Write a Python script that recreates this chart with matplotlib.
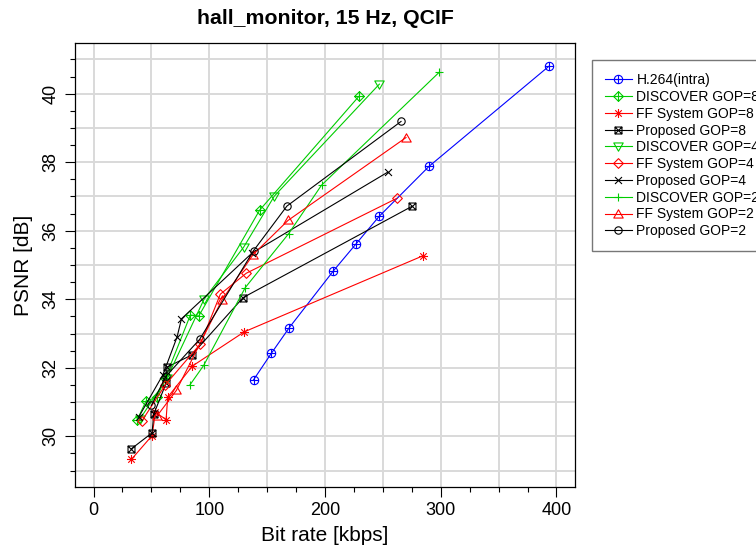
import matplotlib
matplotlib.use("Agg")
import matplotlib.pyplot as plt
from matplotlib.path import Path

plt.rcParams['font.family'] = ['Liberation Sans', 'DejaVu Sans']

# ---- data ----
h264_x = [138.3, 153.6, 169.1, 207.3, 226.9, 246.8, 289.9, 393.4]
h264_y = [31.65, 32.42, 33.17, 34.83, 35.62, 36.42, 37.88, 40.80]

disc8_x = [37.7, 45.4, 54.9, 62.0, 83.7, 90.9, 143.5, 229.2]
disc8_y = [30.48, 31.03, 31.14, 31.70, 33.54, 33.51, 36.60, 39.92]

ff8_x = [32.8, 50.6, 53.5, 62.7, 64.1, 85.4, 130.3, 284.7]
ff8_y = [29.33, 30.02, 30.70, 30.49, 31.14, 32.05, 33.05, 35.27]

prop8_x = [32.5, 50.6, 52.0, 62.7, 63.5, 84.7, 129.3, 275.0]
prop8_y = [29.63, 30.10, 30.64, 31.55, 32.02, 32.37, 34.05, 36.71]

disc4_x = [40.0, 63.5, 95.5, 129.7, 156.2, 247.0]
disc4_y = [30.50, 31.70, 34.00, 35.52, 37.01, 40.28]

ff4_x = [42.0, 62.0, 92.4, 109.6, 132.0, 262.3]
ff4_y = [30.46, 31.50, 32.70, 34.15, 34.76, 36.95]

prop4_x = [39.0, 60.0, 72.2, 76.0, 137.0, 254.2]
prop4_y = [30.56, 31.80, 32.90, 33.43, 35.35, 37.71]

disc2_x = [83.1, 95.2, 131.1, 168.5, 197.0, 298.5]
disc2_y = [31.49, 32.07, 34.34, 35.91, 37.33, 40.62]

ff2_x = [55.0, 71.6, 111.0, 137.8, 168.0, 270.0]
ff2_y = [30.60, 31.34, 33.98, 35.30, 36.30, 38.72]

prop2_x = [50.0, 62.5, 91.7, 138.3, 167.1, 265.7]
prop2_y = [30.90, 31.75, 32.83, 35.42, 36.72, 39.19]

labels = ["H.264(intra)", "DISCOVER GOP=8", "FF System GOP=8", "Proposed GOP=8",
          "DISCOVER GOP=4", "FF System GOP=4", "Proposed GOP=4",
          "DISCOVER GOP=2", "FF System GOP=2", "Proposed GOP=2"]

BLUE, GREEN, RED, BLACK = "#0000FF", "#00CD00", "#FF0000", "#000000"

# ---- R-like marker shapes ----
M, L, C = Path.MOVETO, Path.LINETO, Path.CLOSEPOLY
plus_p = Path([(-1, 0), (1, 0), (0, -1), (0, 1)], [M, L, M, L])
cross_p = Path([(-1, -1), (1, 1), (-1, 1), (1, -1)], [M, L, M, L])
circle_p = Path.unit_circle()
diamond_p = Path([(0, -1), (1, 0), (0, 1), (-1, 0), (0, -1)], [M, L, L, L, C])
square_p = Path([(-1, -1), (1, -1), (1, 1), (-1, 1), (-1, -1)], [M, L, L, L, C])
tri_up = Path([(-1, -0.75), (1, -0.75), (0, 1), (-1, -0.75)], [M, L, L, C])
tri_dn = Path([(-1, 0.75), (1, 0.75), (0, -1), (-1, 0.75)], [M, L, L, C])
star8 = Path.make_compound_path(plus_p, Path([(-0.72, -0.72), (0.72, 0.72), (-0.72, 0.72), (0.72, -0.72)], [M, L, M, L]))
circle_plus = Path.make_compound_path(circle_p, plus_p)
diamond_plus = Path.make_compound_path(diamond_p, Path([(-1, 0), (1, 0), (0, -1), (0, 1)], [M, L, M, L]))
square_x = Path.make_compound_path(square_p, cross_p)

series = [
    (h264_x, h264_y, BLUE, circle_plus, 6.0),
    (disc8_x, disc8_y, GREEN, diamond_plus, 7.0),
    (ff8_x, ff8_y, RED, star8, 6.5),
    (prop8_x, prop8_y, BLACK, square_x, 5.0),
    (disc4_x, disc4_y, GREEN, tri_dn, 6.8),
    (ff4_x, ff4_y, RED, diamond_p, 7.0),
    (prop4_x, prop4_y, BLACK, cross_p, 5.0),
    (disc2_x, disc2_y, GREEN, plus_p, 6.0),
    (ff2_x, ff2_y, RED, tri_up, 6.8),
    (prop2_x, prop2_y, BLACK, circle_p, 5.3),
]

fig = plt.figure(figsize=(7.56, 5.5), dpi=100)
ax = fig.add_axes([75/756, 1-487/550, 500/756, 444/550])

ax.set_xlim(-16, 416)
ax.set_ylim(28.52, 41.48)

for gx in range(0, 401, 50):
    ax.axvline(gx, color="#d9d9d9", lw=1.4, zorder=0)
for gy in range(29, 42):
    ax.axhline(gy, color="#d9d9d9", lw=1.4, zorder=0)

handles = []
for (xs, ys, col, mk, sz), lab in zip(series, labels):
    ln, = ax.plot(xs, ys, color=col, lw=0.8, marker=mk, markersize=sz,
                  markerfacecolor="none", markeredgecolor=col,
                  markeredgewidth=0.8, zorder=3, label=lab)
    handles.append(ln)

ax.set_xticks(range(0, 401, 100))
ax.set_xticks(range(0, 401, 25), minor=True)
ax.set_yticks(range(30, 41, 2))
ax.set_yticks([29 + 0.5 * i for i in range(0, 25)], minor=True)
ax.tick_params(axis="both", which="major", direction="out", length=7, width=0.8,
               labelsize=13, color="#000000")
ax.tick_params(axis="both", which="minor", direction="out", length=3.5, width=0.8)
for lbl in ax.get_yticklabels():
    lbl.set_rotation(90)
    lbl.set_va("center")
ax.tick_params(axis="y", pad=4)
for sp in ax.spines.values():
    sp.set_linewidth(0.9)

ax.set_xlabel("Bit rate [kbps]", fontsize=15, labelpad=5)
ax.set_ylabel("PSNR [dB]", fontsize=15, labelpad=7)
ax.set_title("hall_monitor, 15 Hz, QCIF", fontsize=15.3, fontweight="bold", pad=14)

leg = fig.legend(handles, labels, loc="upper left",
                 bbox_to_anchor=(592/756, 1-60/550), fontsize=10,
                 frameon=True, fancybox=False, borderaxespad=0,
                 handlelength=1.9, handletextpad=0.35, labelspacing=0.2,
                 borderpad=0.95, numpoints=1)
leg.get_frame().set_edgecolor("#555555")
leg.get_frame().set_linewidth(1.0)

fig.savefig("out.png", dpi=100)
